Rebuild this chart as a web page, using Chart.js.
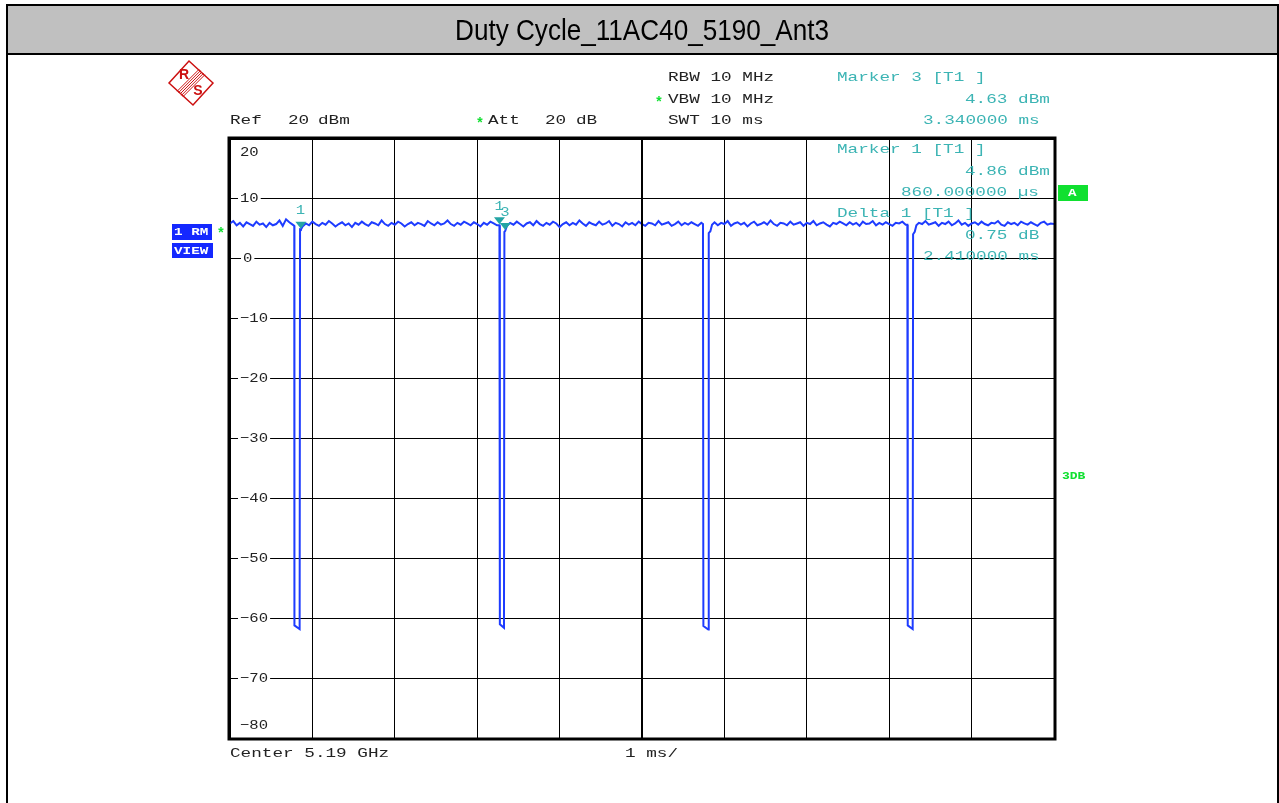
<!DOCTYPE html>
<html>
<head>
<meta charset="utf-8">
<title>Duty Cycle_11AC40_5190_Ant3</title>
<script src="https://cdn.jsdelivr.net/npm/chart.js@4/dist/chart.umd.min.js"></script>
<style>
  html, body { margin: 0; padding: 0; background: #ffffff; }
  canvas { display: block; }
</style>
</head>
<body>
<canvas id="saChart" width="1279" height="803"></canvas>
<script>
// Sweep: 0..10 ms, level in dBm
const sweepStartMs = 0;
const sweepStopMs = 10;
const refLevelTop = 20;
const refLevelBottom = -80;

// trace as [time ms, level dBm]
const tracePoints = [
  [0.00, 5.9], [0.04, 6.3], [0.08, 5.6], [0.12, 6.0], [0.16, 5.4], [0.20, 6.1], [0.24, 5.8], [0.28, 5.5],
  [0.32, 6.2], [0.36, 5.7], [0.40, 5.9], [0.44, 5.3], [0.48, 6.0], [0.52, 5.6], [0.56, 5.8], [0.60, 6.4],
  [0.64, 5.5], [0.68, 6.6], [0.72, 6.1], [0.76, 5.7],
  // gap 1
  [0.78, 5.5], [0.782, -61.2], [0.845, -61.8], [0.85, 4.9], [0.86, 4.86],
  [0.88, 5.4], [0.92, 5.9], [0.96, 5.6], [1.00, 6.2], [1.04, 5.8], [1.08, 5.5], [1.12, 6.0], [1.16, 5.7],
  [1.20, 6.3], [1.24, 5.9], [1.28, 5.4], [1.32, 5.8], [1.36, 6.1], [1.40, 5.6], [1.44, 5.9], [1.48, 5.3],
  [1.52, 6.0], [1.56, 5.7], [1.60, 6.2], [1.64, 5.8], [1.68, 5.5], [1.72, 6.1], [1.76, 5.9], [1.80, 5.6],
  [1.84, 6.4], [1.88, 5.8], [1.92, 5.5], [1.96, 6.0], [2.00, 5.7], [2.04, 6.2], [2.08, 5.9], [2.12, 5.4],
  [2.16, 5.8], [2.20, 6.1], [2.24, 5.6], [2.28, 6.0], [2.32, 5.8], [2.36, 5.5], [2.40, 6.3], [2.44, 5.9],
  [2.48, 5.6], [2.52, 6.1], [2.56, 5.7], [2.60, 5.9], [2.64, 6.4], [2.68, 5.8], [2.72, 5.5], [2.76, 6.0],
  [2.80, 5.7], [2.84, 6.2], [2.88, 5.9], [2.92, 5.6], [2.96, 6.1], [3.00, 5.8], [3.04, 5.4], [3.08, 6.0],
  [3.12, 5.7], [3.16, 6.2], [3.20, 5.9], [3.24, 5.6],
  // gap 2
  [3.27, 5.61], [3.275, -61.0], [3.325, -61.6], [3.33, 4.5], [3.34, 4.63],
  [3.36, 5.5], [3.40, 6.0], [3.44, 5.7], [3.48, 6.2], [3.52, 5.8], [3.56, 5.4], [3.60, 5.9], [3.64, 6.1],
  [3.68, 5.6], [3.72, 6.3], [3.76, 5.8], [3.80, 5.5], [3.84, 6.0], [3.88, 5.7], [3.92, 6.2], [3.96, 5.9],
  [4.00, 5.3], [4.04, 5.8], [4.08, 6.1], [4.12, 5.6], [4.16, 6.0], [4.20, 5.7], [4.24, 6.4], [4.28, 5.9],
  [4.32, 5.5], [4.36, 6.1], [4.40, 5.8], [4.44, 5.6], [4.48, 6.2], [4.52, 5.7], [4.56, 5.9], [4.60, 6.3],
  [4.64, 5.5], [4.68, 6.0], [4.72, 5.8], [4.76, 5.4], [4.80, 6.1], [4.84, 5.7], [4.88, 6.0], [4.92, 5.6],
  [4.96, 6.2], [5.00, 5.8], [5.04, 5.5], [5.08, 6.0], [5.12, 5.9], [5.16, 5.6], [5.20, 6.3], [5.24, 5.7],
  [5.28, 5.9], [5.32, 6.1], [5.36, 5.5], [5.40, 5.8], [5.44, 6.2], [5.48, 5.6], [5.52, 6.0], [5.56, 5.7],
  [5.60, 6.1], [5.64, 5.8], [5.68, 5.5], [5.72, 6.0],
  // gap 3
  [5.74, 5.8], [5.745, -61.3], [5.805, -61.9], [5.81, 4.3], [5.83, 4.6],
  [5.85, 5.7], [5.88, 6.1], [5.92, 5.6], [5.96, 6.0], [6.00, 5.8], [6.04, 6.3], [6.08, 5.5], [6.12, 5.9],
  [6.16, 6.1], [6.20, 5.7], [6.24, 6.0], [6.28, 5.4], [6.32, 5.9], [6.36, 6.2], [6.40, 5.6], [6.44, 5.8],
  [6.48, 6.1], [6.52, 5.7], [6.56, 6.4], [6.60, 5.8], [6.64, 5.5], [6.68, 6.0], [6.72, 5.9], [6.76, 5.6],
  [6.80, 6.2], [6.84, 5.7], [6.88, 5.9], [6.92, 6.1], [6.96, 5.5], [7.00, 6.0], [7.04, 5.8], [7.08, 6.3],
  [7.12, 5.6], [7.16, 5.9], [7.20, 6.1], [7.24, 5.7], [7.28, 5.4], [7.32, 6.0], [7.36, 5.8], [7.40, 6.2],
  [7.44, 5.9], [7.48, 5.6], [7.52, 6.1], [7.56, 5.7], [7.60, 6.0], [7.64, 5.5], [7.68, 6.2], [7.72, 5.8],
  [7.76, 5.9], [7.80, 6.3], [7.84, 5.6], [7.88, 6.0], [7.92, 5.7], [7.96, 6.1], [8.00, 5.8], [8.04, 5.5],
  [8.08, 6.0], [8.12, 5.9], [8.16, 6.2], [8.20, 5.7],
  // gap 4
  [8.22, 5.7], [8.225, -61.2], [8.285, -61.8], [8.29, 4.1], [8.31, 4.5],
  [8.33, 5.6], [8.36, 6.0], [8.40, 5.8], [8.44, 6.3], [8.48, 5.7], [8.52, 5.9], [8.56, 6.1], [8.60, 5.5],
  [8.64, 6.0], [8.68, 5.8], [8.72, 6.2], [8.76, 5.6], [8.80, 5.9], [8.84, 6.4], [8.88, 5.7], [8.92, 6.0],
  [8.96, 5.5], [9.00, 5.9], [9.04, 6.1], [9.08, 5.7], [9.12, 6.2], [9.16, 5.8], [9.20, 5.6], [9.24, 6.0],
  [9.28, 5.9], [9.32, 6.3], [9.36, 5.7], [9.40, 5.5], [9.44, 6.1], [9.48, 5.8], [9.52, 6.0], [9.56, 5.6],
  [9.60, 6.2], [9.64, 5.9], [9.68, 5.7], [9.72, 6.1], [9.76, 5.8], [9.80, 5.5], [9.84, 6.0], [9.88, 6.2],
  [9.92, 5.7], [9.96, 5.9], [10.00, 5.8]
];

// markers: delta 1 and markers 1 / 3
const markerTimes = [0.86, 3.27, 3.34];
const markerLevels = [4.86, 5.61, 4.63];
const markerLabels = ["1", "1", "3"];

// y tick labels (dBm)
const levelTicks = [20, 10, 0, -10, -20, -30, -40, -50, -60, -70, -80];

// readout text
const headerLeft = [["Ref", 230, 121], ["20", 288, 121], ["dBm", 318, 121],
                    ["Att", 488, 121], ["20", 545, 121], ["dB", 576, 121]];
const headerMid = ["RBW 10 MHz", "VBW 10 MHz", "SWT 10 ms"];
const markerReadout = [
  ["Marker 3 [T1 ]", 837, 78], ["4.63 dBm", 965, 100], ["3.340000 ms", 923, 121],
  ["Marker 1 [T1 ]", 837, 150], ["4.86 dBm", 965, 172], ["860.000000 \u00b5s", 901, 193],
  ["Delta 1 [T1 ]", 837, 214], ["0.75 dB", 965, 236], ["2.410000 ms", 923, 257]
];
const titleText = "Duty Cycle_11AC40_5190_Ant3";

const TEAL = "#3cb4b4";
const GREEN = "#10e030";
const TRACE_BLUE = "#1e3cff";
const MONO = "Liberation Mono, DejaVu Sans Mono, monospace";

// draws monospace text stretched sideways like the analyzer font
function drawMono(ctx, text, x, y, color, size, stretch, weight) {
  ctx.save();
  ctx.font = (weight || "normal") + " " + (size || 13) + "px " + MONO;
  ctx.fillStyle = color || "#222";
  ctx.textBaseline = "middle";
  ctx.textAlign = "left";
  ctx.translate(x, y);
  ctx.scale(stretch || 1.36, 1);
  ctx.fillText(text, 0, 0);
  ctx.restore();
}

function monoWidth(ctx, text, size, stretch) {
  ctx.save();
  ctx.font = "normal " + (size || 13) + "px " + MONO;
  const w = ctx.measureText(text).width * (stretch || 1.36);
  ctx.restore();
  return w;
}

function greenStar(ctx, x, y) {
  ctx.save();
  ctx.fillStyle = GREEN;
  ctx.font = "bold 14px " + MONO;
  ctx.textBaseline = "middle";
  ctx.textAlign = "center";
  ctx.fillText("*", x, y + 3);
  ctx.restore();
}

function drawLogo(ctx, cx, cy, r) {
  ctx.save();
  ctx.strokeStyle = "#cc1010";
  ctx.fillStyle = "#cc1010";
  ctx.lineWidth = 1.5;
  ctx.beginPath();
  ctx.moveTo(cx - r, cy);
  ctx.lineTo(cx - 2, cy - r);
  ctx.lineTo(cx + r, cy);
  ctx.lineTo(cx + 2, cy + r);
  ctx.closePath();
  ctx.stroke();
  // diagonal stripes
  ctx.lineWidth = 1;
  for (let k = -2; k <= 2; k++) {
    ctx.beginPath();
    ctx.moveTo(cx + 11 + k * 1.4, cy - 11 + k * 1.4);
    ctx.lineTo(cx - 11 + k * 1.4, cy + 11 + k * 1.4);
    ctx.stroke();
  }
  ctx.font = "bold 14px Liberation Sans, Arial, sans-serif";
  ctx.textAlign = "center";
  ctx.textBaseline = "middle";
  ctx.fillText("R", cx - 7, cy - 8);
  ctx.fillText("S", cx + 7, cy + 8);
  ctx.restore();
}

const screenPlugin = {
  id: "screenPlugin",
  beforeDraw(chart) {
    const ctx = chart.ctx;
    ctx.save();
    ctx.fillStyle = "#ffffff";
    ctx.fillRect(0, 0, chart.width, chart.height);
    // title bar
    ctx.fillStyle = "#c0c0c0";
    ctx.fillRect(7, 4, 1271, 50);
    ctx.strokeStyle = "#000";
    ctx.lineWidth = 2;
    ctx.strokeRect(7, 5, 1271, 820);
    ctx.beginPath();
    ctx.moveTo(7, 54);
    ctx.lineTo(1278, 54);
    ctx.stroke();
    ctx.fillStyle = "#000";
    ctx.font = "29px Liberation Sans, Arial, sans-serif";
    ctx.textAlign = "center";
    ctx.textBaseline = "middle";
    ctx.translate(642, 32);
    ctx.scale(0.9, 1);
    ctx.fillText(titleText, 0, 0);
    ctx.restore();

    drawLogo(ctx, 191, 83, 22);

    headerLeft.forEach(([t, x, y]) => drawMono(ctx, t, x, y));
    greenStar(ctx, 480, 121);
    headerMid.forEach((t, i) => drawMono(ctx, t, 668, [78, 100, 121][i]));
    greenStar(ctx, 659, 100);

    drawMono(ctx, "Center 5.19 GHz", 230, 754);
    drawMono(ctx, "1 ms/", 625, 754);

    // trace info boxes
    ctx.save();
    ctx.fillStyle = "#1428ff";
    ctx.fillRect(172, 224, 40, 16);
    ctx.fillRect(172, 243, 41, 15);
    ctx.fillStyle = GREEN;
    ctx.fillRect(1058, 185, 30, 16);
    ctx.restore();
    drawMono(ctx, "1 RM", 174, 232.5, "#fff", 11, 1.3, "bold");
    drawMono(ctx, "VIEW", 174, 251, "#fff", 11, 1.3, "bold");
    drawMono(ctx, "A", 1068, 193.5, "#fff", 11, 1.3, "bold");
    greenStar(ctx, 221, 231);
    drawMono(ctx, "3DB", 1062, 476.5, GREEN, 10, 1.3, "bold");
  },
  beforeDatasetsDraw(chart) {
    const ctx = chart.ctx;
    const area = chart.chartArea;
    const yScale = chart.scales.y;
    // level labels sit inside the grid, cutting the lines
    levelTicks.forEach((v) => {
      const label = v < 0 ? "\u2212" + Math.abs(v) : String(v);
      let y = yScale.getPixelForValue(v);
      if (v === refLevelTop) y += 14;
      if (v === refLevelBottom) y -= 12;
      const x = v === 0 ? area.left + 13 : area.left + 10;
      const w = monoWidth(ctx, label, 13, 1.2);
      ctx.save();
      ctx.fillStyle = "#fff";
      ctx.fillRect(x - 2, y - 6, w + 4, 12);
      ctx.restore();
      drawMono(ctx, label, x, y, "#222", 13, 1.2);
    });
  },
  afterDatasetsDraw(chart) {
    const ctx = chart.ctx;
    const area = chart.chartArea;
    const xs = chart.scales.x;
    const ys = chart.scales.y;

    // marker triangles, tip on the trace
    markerTimes.forEach((t, i) => {
      const px = xs.getPixelForValue(t);
      const py = ys.getPixelForValue(markerLevels[i]);
      ctx.save();
      ctx.fillStyle = "#24a4a4";
      ctx.beginPath();
      ctx.moveTo(px - 5.5, py - 8);
      ctx.lineTo(px + 5.5, py - 8);
      ctx.lineTo(px, py - 1);
      ctx.closePath();
      ctx.fill();
      ctx.restore();
      drawMono(ctx, markerLabels[i], px - 5, py - 19, TEAL, 13, 1.2);
    });

    // frame: thick border and thick centre line
    ctx.save();
    ctx.strokeStyle = "#000";
    ctx.lineWidth = 3;
    ctx.strokeRect(area.left - 1, area.top - 1, area.right - area.left + 2, area.bottom - area.top + 2);
    ctx.lineWidth = 2;
    const cx = xs.getPixelForValue((sweepStartMs + sweepStopMs) / 2);
    ctx.beginPath();
    ctx.moveTo(cx, area.top);
    ctx.lineTo(cx, area.bottom);
    ctx.stroke();
    ctx.restore();

    markerReadout.forEach(([t, x, y]) => drawMono(ctx, t, x, y, TEAL));
  }
};

const ctx = document.getElementById("saChart").getContext("2d");

new Chart(ctx, {
  type: "line",
  data: {
    datasets: [
      {
        label: "Trace 1",
        data: tracePoints.map(([t, v]) => ({ x: t, y: v })),
        borderColor: TRACE_BLUE,
        borderWidth: 2,
        pointRadius: 0,
        fill: false,
        tension: 0,
      },
    ],
  },
  options: {
    responsive: false,
    animation: false,
    devicePixelRatio: 1,
    layout: {
      padding: { left: 230, top: 139, right: 225, bottom: 65 },
    },
    plugins: {
      legend: { display: false },
      tooltip: { enabled: false },
    },
    scales: {
      x: {
        type: "linear",
        min: sweepStartMs,
        max: sweepStopMs,
        ticks: { display: false, stepSize: 1 },
        grid: { color: "#000", lineWidth: 1, drawTicks: false },
        border: { display: false },
      },
      y: {
        min: refLevelBottom,
        max: refLevelTop,
        ticks: { display: false, stepSize: 10 },
        grid: { color: "#000", lineWidth: 1, drawTicks: false },
        border: { display: false },
      },
    },
  },
  plugins: [screenPlugin],
});
</script>
</body>
</html>
